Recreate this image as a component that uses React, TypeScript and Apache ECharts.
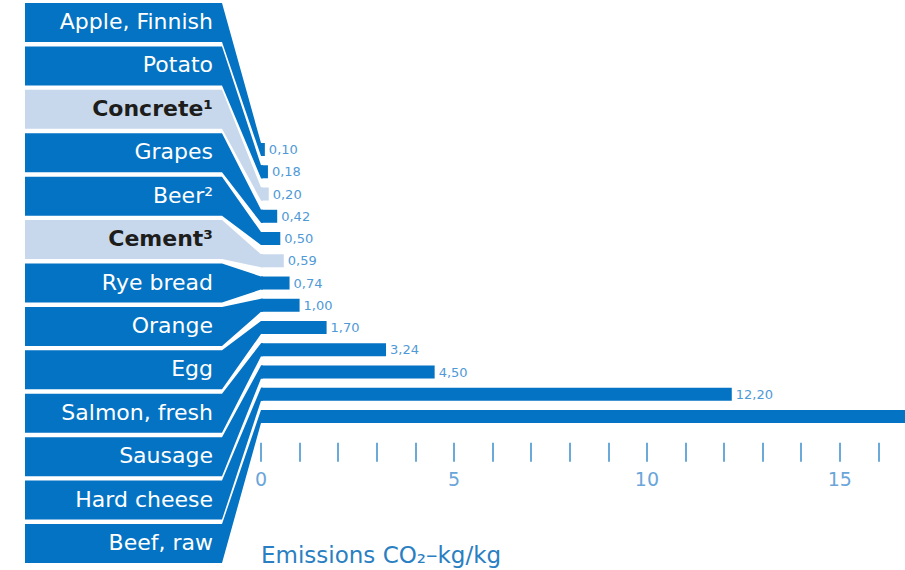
import React, { useEffect, useRef } from "react";
import * as echarts from "echarts";

// Products, top to bottom, with their carbon footprint (kg CO2 per kg)
const categories = [
  "Apple, Finnish",
  "Potato",
  "Concrete¹",
  "Grapes",
  "Beer²",
  "Cement³",
  "Rye bread",
  "Orange",
  "Egg",
  "Salmon, fresh",
  "Sausage",
  "Hard cheese",
  "Beef, raw",
];
const emissions = [0.1, 0.18, 0.2, 0.42, 0.5, 0.59, 0.74, 1.0, 1.7, 3.24, 4.5, 12.2, 18];
// Building materials are highlighted in a lighter tone
const buildingMaterials = ["Concrete¹", "Cement³"];
// Bars running off the scale carry no value label
const unlabelled = ["Beef, raw"];
const tickLabels = [0, 5, 10, 15];
const axisTitle = "Emissions CO₂–kg/kg";

const DARK = "#0473C3";
const LIGHT = "#C7D7EC";
const FONT = '"DejaVu Sans", "Noto Sans", sans-serif';
const BAR_W = 13;
const BOX_LEFT = 25;
const BOX_CORNER = 222;
const BOX_TOP = 3;
const BOX_H = 39;
const BOX_PITCH = 43.42;

const fmt = (v: number) => v.toFixed(2).replace(".", ",");

export default function App() {
  const ref = useRef<HTMLDivElement>(null);

  useEffect(() => {
    if (!ref.current) return;
    const chart = echarts.init(ref.current, null, { renderer: "svg" });

    const barData = emissions.map((v, i) => {
      const light = buildingMaterials.includes(categories[i]);
      return {
        value: v,
        itemStyle: { color: light ? LIGHT : DARK },
        label: { show: !unlabelled.includes(categories[i]) },
      };
    });

    chart.setOption({
      animation: false,
      backgroundColor: "#ffffff",
      title: {
        text: axisTitle,
        left: 261,
        top: 543,
        padding: 0,
        textStyle: {
          fontFamily: FONT,
          fontSize: 23,
          fontWeight: "normal",
          color: "#2a7fc2",
        },
      },
      grid: {
        left: 261,
        top: 138.4,
        width: 656,
        height: 289.25,
        containLabel: false,
        outerBoundsMode: "none",
      },
      xAxis: {
        type: "value",
        min: 0,
        max: 17,
        interval: 1,
        offset: 15,
        axisLine: { show: false },
        splitLine: { show: false },
        axisTick: {
          show: true,
          length: 19,
          lineStyle: { color: "#3a8ccc", width: 1.5 },
        },
        axisLabel: {
          margin: 27,
          fontFamily: FONT,
          fontSize: 19,
          color: "#6aa5da",
          formatter: (v: number) => (tickLabels.includes(v) ? String(v) : ""),
        },
      },
      yAxis: {
        type: "category",
        data: categories,
        inverse: true,
        show: false,
      },
      series: [
        {
          // Label banners funnelling into the bars
          type: "custom",
          clip: false,
          z: 1,
          data: categories.map((_, i) => [0, i]),
          encode: { x: 0, y: 1 },
          renderItem: (_params: any, api: any) => {
            const i = api.value(1);
            const [x0, cy] = api.coord([0, i]);
            const top = BOX_TOP + i * BOX_PITCH;
            const bot = top + BOX_H;
            const light = buildingMaterials.includes(categories[i]);
            const bt = cy - BAR_W / 2;
            const bb = cy + BAR_W / 2;
            return {
              type: "group",
              children: [
                {
                  type: "polygon",
                  shape: {
                    points: [
                      [BOX_LEFT, top],
                      [BOX_CORNER, top],
                      [x0, bt],
                      [x0 + 2, bt],
                      [x0 + 2, bb],
                      [x0, bb],
                      [BOX_CORNER, bot],
                      [BOX_LEFT, bot],
                    ],
                  },
                  style: { fill: light ? LIGHT : DARK },
                },
                {
                  type: "text",
                  style: {
                    text: categories[i],
                    x: 213,
                    y: (top + bot) / 2 - 1,
                    align: "right",
                    verticalAlign: "middle",
                    fill: light ? "#1d1d1b" : "#ffffff",
                    font: `${light ? "bold " : ""}22px ${FONT}`,
                  },
                },
              ],
            };
          },
        },
        {
          type: "bar",
          z: 2,
          barWidth: BAR_W,
          data: barData,
          label: {
            position: "right",
            distance: 4,
            fontFamily: FONT,
            fontSize: 13,
            color: "#4f9ad6",
            formatter: (p: any) => fmt(p.value),
          },
        },
      ],
    });

    return () => chart.dispose();
  }, []);

  return (
    <div
      ref={ref}
      style={{ position: "fixed", left: 0, top: 0, width: 905, height: 570, background: "#fff" }}
    />
  );
}
